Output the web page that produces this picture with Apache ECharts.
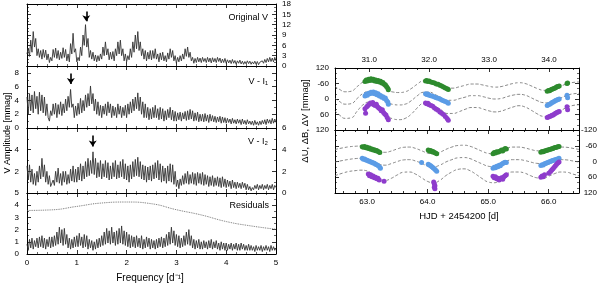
<!DOCTYPE html>
<html><head><meta charset="utf-8">
<script src="https://cdn.jsdelivr.net/npm/echarts@6/dist/echarts.min.js"></script>
<style>html,body{margin:0;padding:0;background:#fff}#c{width:600px;height:284px}</style>
</head><body><div id="c"></div>
<script>
// ---------- DATA ----------
const freqStep = 0.025; // amplitude spectra sampled every 0.025 d^-1 from 0 to 5
const ampOriginalV = [
3.5,5.2,2.8,7.5,4.0,10.0,5.5,8.0,3.0,5.0,2.5,4.5,2.0,4.8,2.5,4.6,1.8,3.5,1.0,2.5,
1.5,4.8,2.5,5.2,2.2,4.5,1.8,4.0,2.2,5.3,2.5,4.8,1.5,3.5,1.2,6.5,3.5,9.5,4.0,5.0,
1.2,2.5,1.5,5.5,3.0,9.0,6.0,12.0,5.5,8.0,2.5,4.5,2.0,4.0,1.5,3.2,1.2,3.0,1.5,3.5,
2.0,5.5,3.0,7.0,3.2,5.0,1.8,4.0,2.0,4.2,1.5,5.0,3.0,7.0,3.5,7.5,3.0,5.0,1.5,3.5,
1.2,3.0,1.8,5.0,2.5,7.0,4.0,9.0,5.0,10.0,4.5,7.0,3.0,5.0,2.0,4.5,1.5,4.0,2.0,4.5,
1.8,4.5,2.2,5.0,2.0,3.5,1.2,3.8,1.8,4.0,1.5,3.0,1.2,3.8,2.0,5.0,2.5,4.5,1.5,3.0,
0.8,2.5,1.2,3.0,1.5,3.5,2.0,5.0,2.8,5.5,2.5,4.0,1.5,2.5,0.8,2.2,1.0,2.5,1.2,2.3,
1.0,2.5,1.3,2.2,1.0,2.5,1.2,2.3,0.9,2.4,1.2,2.2,1.0,2.5,1.3,2.3,0.9,2.0,1.0,2.2,
0.8,1.8,0.9,1.7,0.7,1.9,0.8,1.6,0.5,1.5,0.8,1.7,0.6,1.4,0.5,1.3,0.6,1.5,0.7,1.4,
0.5,1.2,0.6,1.4,0.5,1.3,0.4,1.1,0.6,1.5,0.8,1.9,1.0,2.2,1.2,2.5,1.3,2.3,1.2,2.5,1.5];
const ampVI1 = [
4.5,2.0,5.0,2.5,4.8,2.2,5.3,2.8,4.6,2.0,5.2,2.5,4.8,2.2,4.5,1.8,3.5,1.5,1.0,2.5,
1.8,3.5,2.0,3.6,1.5,3.4,2.0,3.8,1.8,3.5,2.2,4.2,2.5,4.6,3.0,5.6,3.0,3.5,1.5,3.2,
1.8,3.6,2.0,4.3,2.2,4.0,2.5,4.8,3.0,5.0,3.2,6.1,3.5,5.0,2.5,4.2,2.0,3.8,1.8,3.3,
1.5,3.2,2.0,3.5,1.8,3.8,2.2,3.5,1.5,3.2,1.8,3.0,1.5,3.5,2.0,3.2,1.5,3.0,1.8,3.3,
1.5,3.5,2.0,3.8,2.2,4.2,2.5,4.5,2.8,5.1,2.5,4.5,2.0,3.8,1.5,3.5,1.5,3.0,1.2,2.8,
1.3,3.0,1.5,3.3,1.5,2.8,1.2,3.0,1.3,2.8,1.0,2.5,1.2,2.7,1.5,3.0,1.2,2.6,1.0,2.4,
1.0,2.2,1.2,2.3,1.0,2.2,1.3,2.4,1.1,2.5,1.2,2.7,1.3,2.5,1.0,2.2,1.1,2.3,0.9,2.0,
1.0,2.0,0.9,2.1,1.0,1.9,0.8,2.0,1.0,1.8,0.9,1.7,0.8,1.6,0.9,1.7,0.7,1.6,0.8,1.5,
0.7,1.4,0.8,1.3,0.6,1.4,0.7,1.2,0.6,1.3,0.7,1.2,0.5,1.3,0.6,1.1,0.5,1.2,0.6,1.0,
0.5,1.0,0.4,1.1,0.5,0.9,0.4,1.0,0.5,1.1,0.6,1.2,0.5,1.3,0.7,1.2,0.6,1.4,0.7,1.3,0.8];
const ampVI2 = [
2.5,1.2,2.6,1.0,2.2,0.8,1.8,0.7,2.0,1.0,2.5,1.3,3.2,1.5,2.6,1.0,2.0,0.8,1.6,0.6,
0.5,1.2,0.7,2.0,1.0,2.3,0.9,1.8,0.7,2.0,1.0,2.0,0.8,1.7,0.9,2.2,1.1,2.5,1.0,2.2,
1.0,2.4,1.2,2.7,1.1,2.5,1.3,2.9,1.5,3.2,1.6,3.0,1.8,3.8,1.7,3.2,1.4,2.8,1.5,3.0,
1.3,2.7,1.5,3.0,1.4,2.8,1.2,2.5,1.3,2.8,1.5,3.0,1.3,2.6,1.4,2.9,1.5,3.1,1.3,2.7,
1.2,2.5,1.0,2.6,1.3,2.9,1.5,3.1,1.6,3.3,1.5,2.9,1.3,2.6,1.2,2.5,1.0,2.4,1.2,2.5,
1.1,2.6,1.3,2.8,1.4,3.0,1.2,2.7,1.0,2.5,1.1,2.3,0.9,2.5,1.1,2.7,1.0,2.6,0.8,2.0,
0.6,1.2,0.4,1.3,0.7,1.6,0.8,1.8,0.9,2.0,0.8,1.7,0.9,1.9,0.8,1.8,0.7,1.9,0.9,1.8,
0.8,1.9,0.7,1.7,0.8,1.6,0.6,1.5,0.7,1.6,0.6,1.4,0.7,1.5,0.6,1.4,0.5,1.5,0.6,1.3,
0.5,1.2,0.6,1.1,0.4,1.2,0.5,1.0,0.4,1.0,0.5,0.9,0.4,1.0,0.5,0.9,0.3,0.8,0.3,0.6,
0.2,0.5,0.3,0.7,0.4,0.8,0.3,0.7,0.4,0.8,0.3,0.7,0.4,0.8,0.3,0.7,0.4,0.8,0.3,0.7,0.5];
const ampResid = [
0.8,0.3,1.2,0.5,1.3,0.4,1.1,0.6,1.3,0.5,1.4,0.6,1.5,0.5,1.3,0.4,1.2,0.6,1.4,0.5,
1.4,0.6,1.5,0.7,1.8,0.8,2.2,0.9,2.0,0.7,2.1,0.8,1.6,0.5,1.3,0.4,1.2,0.5,1.4,0.6,
1.5,0.6,1.7,0.7,1.4,0.5,1.6,0.6,1.5,0.4,1.2,0.5,1.1,0.3,1.0,0.4,1.2,0.5,1.3,0.6,
1.5,0.7,1.8,0.8,2.1,0.9,1.9,0.8,2.2,0.9,1.8,0.7,1.9,0.8,2.1,0.9,2.3,0.8,1.9,0.7,
1.8,0.6,1.6,0.5,1.5,0.6,1.4,0.5,1.5,0.6,1.3,0.5,1.5,0.4,1.2,0.5,1.4,0.6,1.3,0.4,
1.2,0.5,1.1,0.4,1.2,0.5,1.3,0.6,1.4,0.5,1.3,0.6,1.6,0.7,1.8,0.8,2.2,0.9,1.9,0.7,
1.6,0.6,1.5,0.5,1.3,0.6,1.5,0.7,1.8,0.8,2.0,0.7,1.5,0.5,1.2,0.4,1.1,0.5,1.2,0.4,
1.0,0.4,1.1,0.5,1.0,0.4,1.1,0.5,1.2,0.4,1.0,0.5,1.1,0.4,0.9,0.3,1.0,0.4,0.9,0.3,
0.9,0.3,0.8,0.4,0.9,0.3,0.8,0.4,0.9,0.3,0.8,0.3,0.9,0.4,0.8,0.3,0.7,0.3,0.8,0.3,
0.7,0.3,0.6,0.2,0.7,0.3,0.6,0.3,0.7,0.2,0.6,0.3,0.7,0.3,0.6,0.2,0.7,0.3,0.6,0.3,0.5];
const residLevelF = [0,0.5,1.0,1.5,2.0,2.5,3.0,3.5,4.0,4.5,5.0];
const residLevel  = [3.57,3.62,3.9,4.18,4.26,4.12,3.63,3.2,2.66,2.3,2.03];
// arrows: [frequency, start amplitude, end amplitude]
const arrowOrigV = [1.19, 15.8, 13.0];
const arrowVI1   = [0.88, 7.9, 6.4];
const arrowVI2   = [1.32, 5.3, 4.3];
const freqTicks = [0,1,2,3,4,5];

// light curves, first night group (HJD - 2454200)
const modelDays1 = [30.43,30.5,30.6,30.7,30.8,30.9,31.0,31.1,31.2,31.3,31.4,31.5,31.6,31.7,31.8,31.9,32.0,32.1,32.2,32.3,32.4,32.5,32.6,32.7,32.8,32.9,33.0,33.1,33.2,33.3,33.4,33.5,33.6,33.7,33.8,33.9,34.0,34.1,34.2,34.3,34.4,34.5];
const modelV1 = [-49,-38,-28,-30,-48,-66,-73,-69,-55,-36,-27,-25,-28,-40,-57,-70,-71,-62,-52,-42,-42,-47,-53,-58,-58,-54,-49,-46,-48,-54,-60,-63,-60,-51,-41,-34,-33,-40,-50,-59,-64,-66];
const modelB1 = [-3,9,20,18,-2,-22,-29,-25,-10,11,21,23,20,7,-12,-26,-27,-17,-6,5,5,-1,-7,-13,-13,-9,-3,0,-2,-9,-15,-18,-15,-5,6,14,15,7,-4,-14,-20,-22];
const modelU1 = [46,61,75,73,47,22,12,18,38,64,77,80,75,59,35,17,15,28,42,56,56,49,40,33,33,39,46,50,47,39,31,26,31,43,57,67,68,59,45,32,25,22];
const obsV1 = [[30.93,-68],[30.95,-74],[30.97,-70],[30.99,-76],[31.01,-72],[31.03,-78],[31.05,-73],[31.07,-76],[31.09,-70],[31.11,-74],[31.13,-68],[31.15,-72],[31.17,-66],[31.19,-69],[31.21,-62],[31.23,-64],[31.25,-57],[31.27,-55],[31.29,-48],[31.31,-42],[31.32,-36],
[31.94,-70],[31.96,-72],[31.98,-68],[32.00,-70],[32.03,-66],[32.06,-64],[32.09,-62],[32.12,-58],[32.15,-57],[32.18,-53],[32.21,-50],[32.24,-46],[32.27,-43],[32.30,-40],[32.32,-37],
[33.97,-30],[33.99,-33],[34.01,-32],[34.03,-36],[34.05,-38],[34.07,-40],[34.09,-42],[34.11,-44],[34.13,-47],[34.15,-48],[34.17,-50],[34.30,-60],[34.31,-62]];
const obsB1 = [[30.93,-12],[30.95,-18],[30.97,-15],[30.99,-22],[31.01,-20],[31.03,-26],[31.05,-22],[31.07,-27],[31.09,-20],[31.11,-24],[31.13,-16],[31.15,-20],[31.17,-12],[31.19,-14],[31.21,-7],[31.23,-9],[31.25,-2],[31.27,-4],[31.29,6],[31.31,12],[31.32,20],
[31.94,-20],[31.96,-17],[31.98,-19],[32.00,-15],[32.03,-13],[32.06,-11],[32.09,-8],[32.12,-5],[32.15,-3],[32.18,0],[32.21,4],[32.24,7],[32.27,10],[32.30,13],[32.32,16],
[33.97,25],[33.99,22],[34.01,20],[34.03,17],[34.05,14],[34.07,12],[34.09,9],[34.11,6],[34.13,4],[34.15,2],[34.17,0],[34.30,-15],[34.31,-5]];
const obsU1 = [[30.93,38],[30.94,55],[30.96,30],[30.98,25],[31.00,20],[31.02,15],[31.04,18],[31.06,14],[31.08,22],[31.10,25],[31.12,20],[31.14,30],[31.16,35],[31.18,38],[31.20,45],[31.22,42],[31.24,52],[31.26,58],[31.28,62],[31.30,72],[31.32,80],
[31.94,15],[31.96,18],[31.98,16],[32.00,22],[32.03,25],[32.06,28],[32.09,35],[32.12,40],[32.15,44],[32.18,50],[32.21,55],[32.24,60],[32.27,68],[32.30,75],[32.32,82],
[33.97,72],[33.99,70],[34.01,68],[34.03,66],[34.05,63],[34.07,62],[34.09,58],[34.11,55],[34.13,52],[34.15,50],[34.17,48],[34.30,30],[34.31,42]];

// second night group
const modelDays2 = [62.47,62.6,62.7,62.8,62.9,63.0,63.1,63.2,63.3,63.4,63.5,63.6,63.7,63.8,63.9,64.0,64.1,64.2,64.3,64.4,64.5,64.6,64.7,64.8,64.9,65.0,65.1,65.2,65.3,65.4,65.5,65.6,65.7,65.8,65.9,66.0,66.1,66.2,66.3,66.4,66.5];
const modelV2 = [-46,-52,-56,-58,-59,-57,-48,-38,-35,-40,-48,-54,-55,-50,-41,-32,-29,-35,-46,-55,-61,-62,-58,-49,-39,-31,-29,-38,-49,-55,-55,-52,-46,-41,-40,-45,-51,-55,-54,-50,-46];
const modelB2 = [2,-4,-8,-11,-12,-10,0,10,14,8,0,-6,-7,-2,7,17,20,14,2,-7,-14,-15,-11,-1,9,18,20,10,-1,-7,-7,-4,2,7,8,3,-3,-7,-6,-2,2];
const modelU2 = [54,44,38,35,33,36,51,67,72,64,51,41,40,48,62,76,81,72,54,40,30,28,35,49,65,78,81,67,49,40,40,44,54,62,64,56,46,40,41,48,54];
const obsV2 = [[62.92,-56],[62.94,-54],[62.96,-57],[62.98,-52],[63.00,-54],[63.02,-50],[63.04,-51],[63.06,-47],[63.08,-48],[63.10,-44],[63.12,-45],[63.14,-41],[63.16,-42],[63.18,-38],[63.20,-36],[63.21,-34],
[64.01,-44],[64.03,-40],[64.05,-42],[64.07,-37],[64.09,-38],[64.11,-34],[64.13,-32],[64.15,-30],
[65.08,-30],[65.10,-34],[65.12,-32],[65.14,-37],[65.16,-35],[65.18,-38],[65.20,-40],[65.22,-44],[65.24,-40],[65.26,-46],[65.28,-50],[65.30,-48],
[65.87,-35],[65.89,-38],[65.91,-37],[65.93,-40],[65.95,-41],[65.97,-43],[65.99,-44],[66.01,-46],[66.03,-47],[66.05,-49],[66.07,-50],[66.09,-52],[66.11,-53],[66.13,-54],[66.15,-56],[66.17,-57]];
const obsB2 = [[62.92,-12],[62.94,-9],[62.96,-10],[62.98,-6],[63.00,-5],[63.02,-2],[63.04,-1],[63.06,2],[63.08,3],[63.10,6],[63.12,7],[63.14,10],[63.16,12],[63.18,15],[63.21,22],[63.22,26],
[63.90,4],[64.01,10],[64.03,13],[64.05,16],[64.07,20],[64.09,24],[64.11,28],[64.13,32],[64.15,37],
[65.08,26],[65.10,22],[65.12,24],[65.14,18],[65.16,20],[65.18,14],[65.20,16],[65.22,10],[65.24,8],[65.26,5],[65.28,3],[65.30,4],
[65.87,15],[65.89,12],[65.91,13],[65.93,9],[65.95,8],[65.97,5],[65.99,4],[66.01,1],[66.03,0],[66.05,-3],[66.07,-4],[66.09,-6],[66.11,-7],[66.13,-9],[66.15,-10],[66.17,-12]];
const obsU2 = [[63.02,48],[63.04,54],[63.06,50],[63.08,58],[63.10,55],[63.12,62],[63.14,60],[63.16,66],[63.18,64],[63.20,70],[63.28,75],
[64.10,78],[64.11,85],[64.12,92],[64.11,98],[64.12,104],
[65.08,56],[65.10,62],[65.12,58],[65.14,66],[65.16,64],[65.18,70],[65.20,66],[65.22,62],[65.24,68],[65.26,58],[65.28,54],[65.30,50],
[65.87,60],[65.89,55],[65.91,58],[65.93,50],[66.00,45],[66.03,38],[66.05,32],[66.07,28],[66.09,22],[66.11,16],[66.13,10],[66.15,6],[66.17,2]];
const dayTicks1 = [31,32,33,34];
const dayTicks2 = [63,64,65,66];

// ---------- CHART ----------
const FONT = '"Liberation Sans", Arial, Helvetica, sans-serif';
const lab = o => Object.assign({show:true,color:'#000',fontSize:8,fontFamily:FONT}, o);
const tick = (len,o) => Object.assign({show:true,inside:true,length:len,lineStyle:{color:'#000',width:0.8}}, o||{});
const minor = n => ({show:true,splitNumber:n,length:2,lineStyle:{color:'#000',width:0.6}});
function axis(gridIndex, position, o) {
  return Object.assign({
    type:'value', gridIndex, position,
    axisLine:{show:true,onZero:false,lineStyle:{color:'#000',width:1}},
    axisTick:tick(4), minorTick:{show:false},
    splitLine:{show:false}, minorSplitLine:{show:false},
    axisLabel:{show:false}
  }, o);
}
const grids=[], xAxes=[], yAxes=[], series=[];

const leftPanels = [
  {top:3,  height:63, ymax:18, yint:3, ysplit:3, data:ampOriginalV, left:null, right:v=>v, arrow:arrowOrigV},
  {top:66, height:62, ymax:9,  yint:2, ysplit:2, data:ampVI1, left:v=>(v%2===0?v:''), right:null, arrow:arrowVI1},
  {top:128,height:65, ymax:6,  yint:2, ysplit:2, data:ampVI2, left:v=>((v===2||v===4)?v:''), right:v=>v, arrow:arrowVI2},
  {top:193,height:61, ymax:5,  yint:1, ysplit:2, data:ampResid, left:v=>v, right:null, arrow:null}
];
leftPanels.forEach((p,gi)=>{
  grids.push({left:27,width:249,top:p.top,height:p.height});
  const xi = xAxes.length;
  xAxes.push(axis(gi,'bottom',{min:0,max:5,interval:1,minorTick:minor(5),
     axisLabel: gi===3 ? lab({margin:5,customValues:freqTicks}) : {show:false}}));
  xAxes.push(axis(gi,'top',{min:0,max:5,interval:1,minorTick:minor(5)}));
  const yi = yAxes.length;
  yAxes.push(axis(gi,'left',{min:0,max:p.ymax,interval:p.yint,minorTick:minor(p.ysplit),
     axisLabel: p.left ? lab({margin:8,formatter:p.left}) : {show:false}}));
  yAxes.push(axis(gi,'right',{min:0,max:p.ymax,interval:p.yint,minorTick:minor(p.ysplit),
     axisLabel: p.right ? lab({margin:6,formatter:p.right}) : {show:false}}));
  const s = {type:'line',xAxisIndex:xi,yAxisIndex:yi,showSymbol:false,symbol:'none',
     data:p.data.map((a,i)=>[+(i*freqStep).toFixed(3),a]),
     lineStyle:{color:'#333',width:0.9},silent:true,z:2};
  if (p.arrow) {
    s.markLine = {silent:true,symbol:['none','arrow'],symbolSize:6,animation:false,
      label:{show:false},lineStyle:{color:'#000',width:1.6,type:'solid'},
      data:[[{coord:[p.arrow[0],p.arrow[1]]},{coord:[p.arrow[0],p.arrow[2]]}]]};
  }
  series.push(s);
  if (gi===3) {
    series.push({type:'line',xAxisIndex:xi,yAxisIndex:yi,showSymbol:false,symbol:'none',smooth:true,
      data:residLevelF.map((f,i)=>[f,residLevel[i]]),
      lineStyle:{color:'#666',width:0.9,type:'dotted'},silent:true});
  }
});

const rightPanels = [
  {top:68, height:62, xmin:30.43, xmax:34.5, major:dayTicks1, topLabels:true,
   days:modelDays1, models:[modelV1,modelB1,modelU1], obs:[obsV1,obsB1,obsU1],
   left:v=>(v===-120?'120':v), right:null},
  {top:130,height:63, xmin:62.47, xmax:66.5, major:dayTicks2, topLabels:false,
   days:modelDays2, models:[modelV2,modelB2,modelU2], obs:[obsV2,obsB2,obsU2],
   left:null, right:v=>v}
];
const colors = ['#2e8b2e','#5b9ce6','#8e3ccc'];
rightPanels.forEach((p,k)=>{
  const gi = grids.length;
  grids.push({left:335,width:244,top:p.top,height:p.height});
  const minors=[];
  for (let v=Math.ceil(p.xmin*5)/5; v<=p.xmax+1e-9; v+=0.2) {
    const r=+v.toFixed(2); if (Math.abs(r-Math.round(r))>1e-6) minors.push(r);
  }
  const xi = xAxes.length;
  const fmt = v=>v.toFixed(1);
  const noLine = {show:false,onZero:false};
  xAxes.push(axis(gi,'bottom',{min:p.xmin,max:p.xmax,axisTick:tick(4,{customValues:p.major}),
    axisLabel: !p.topLabels ? lab({margin:5,customValues:p.major,formatter:fmt}) : {show:false}}));
  xAxes.push(axis(gi,'bottom',{min:p.xmin,max:p.xmax,axisLine:noLine,axisTick:tick(2,{customValues:minors})}));
  xAxes.push(axis(gi,'top',{min:p.xmin,max:p.xmax,axisTick:tick(4,{customValues:p.major}),
    axisLabel: p.topLabels ? lab({margin:4,customValues:p.major,formatter:fmt}) : {show:false}}));
  xAxes.push(axis(gi,'top',{min:p.xmin,max:p.xmax,axisLine:noLine,axisTick:tick(2,{customValues:minors})}));
  const yi = yAxes.length;
  yAxes.push(axis(gi,'left',{min:-120,max:120,interval:60,inverse:true,minorTick:minor(3),
    axisLabel: p.left ? lab({margin:6,formatter:p.left}) : {show:false}}));
  yAxes.push(axis(gi,'right',{min:-120,max:120,interval:60,inverse:true,minorTick:minor(3),
    axisLabel: p.right ? lab({margin:18,align:'right',formatter:p.right}) : {show:false}}));
  p.models.forEach((m,j)=>{
    series.push({type:'line',xAxisIndex:xi,yAxisIndex:yi,showSymbol:false,symbol:'none',smooth:true,
      data:p.days.map((d,i)=>[d,m[i]]),lineStyle:{color:'#6a6a6a',width:0.8,type:[3,2]},silent:true,z:2});
  });
  p.obs.forEach((o,j)=>{
    series.push({type:'scatter',xAxisIndex:xi,yAxisIndex:yi,data:o,symbol:'circle',symbolSize:5,
      itemStyle:{color:colors[j],opacity:1},silent:true,z:3});
  });
});

const txt = (text,x,y,o) => Object.assign({type:'text',x,y,silent:true,
  style:Object.assign({text,fill:'#000',fontFamily:FONT,fontSize:9,align:'right',verticalAlign:'middle'},o||{})});
const graphic = [
  txt('Original V',268,18),
  txt('V - I\u2081',268,82),
  txt('V - I\u2082',268,142),
  txt('Residuals',269,206),
  txt('Frequency [d\u207B\u00B9]',150,278,{align:'center',fontSize:10}),
  txt('HJD + 2454200 [d]',459,216,{align:'center',fontSize:9.5}),
  Object.assign(txt('V Amplitude [mmag]',8,133,{align:'center',fontSize:9}),{rotation:Math.PI/2}),
  Object.assign(txt('\u0394U, \u0394B, \u0394V [mmag]',305,121,{align:'center',fontSize:9.5}),{rotation:Math.PI/2})
];

const chart = echarts.init(document.getElementById('c'),null,{renderer:'canvas'});
chart.setOption({animation:false,backgroundColor:'#fff',grid:grids,xAxis:xAxes,yAxis:yAxes,series,graphic});
</script></body></html>
